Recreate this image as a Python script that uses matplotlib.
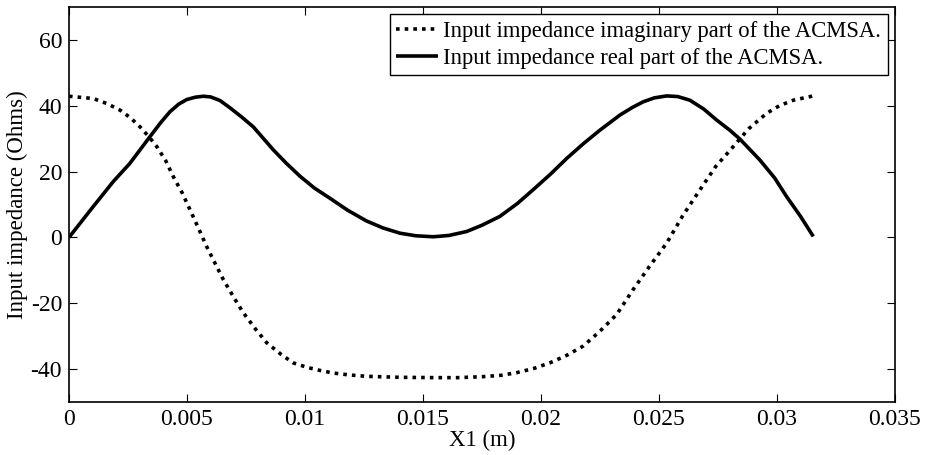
import numpy as np
import matplotlib.pyplot as plt

plt.rcParams['font.family'] = 'Liberation Serif'

# real part
x_re = [0.0, 0.00103, 0.00188, 0.00258, 0.00343, 0.00390, 0.00428, 0.00465, 0.00499,
        0.00535, 0.00569, 0.00600, 0.00640, 0.00682, 0.00730, 0.00781, 0.00866,
        0.00920, 0.00979, 0.01040, 0.01106, 0.01180, 0.01261, 0.01330, 0.01402,
        0.01470, 0.01544, 0.01610, 0.01685, 0.01750, 0.01826, 0.01900, 0.01967,
        0.02040, 0.02109, 0.02180, 0.0225, 0.02335, 0.02390, 0.02433, 0.02480,
        0.02533, 0.02580, 0.02631, 0.02690, 0.02744, 0.02800, 0.02843, 0.02928,
        0.02990, 0.03041, 0.03100, 0.03154]
re = [0.0, 9.4, 17.0, 22.5, 30.6, 35.0, 38.2, 40.5, 41.9,
      42.6, 42.9, 42.7, 41.6, 39.4, 36.7, 33.6, 26.6,
      22.6, 18.6, 15.0, 11.9, 8.3, 5.0, 2.9, 1.3,
      0.5, 0.2, 0.6, 1.8, 3.7, 6.4, 10.3, 14.5,
      19.2, 24.0, 28.5, 32.6, 37.2, 39.6, 41.2, 42.4,
      43.0, 42.8, 41.7, 39.0, 35.7, 32.6, 29.9, 23.5,
      18.1, 12.4, 6.4, 0.3]

# imaginary part
x_im = [0.0, 0.00103, 0.00160, 0.00216, 0.00260, 0.00301, 0.00340, 0.00372, 0.00410,
        0.00442, 0.00480, 0.00513, 0.00550, 0.00583, 0.00620, 0.00654, 0.00700,
        0.00739, 0.00790, 0.00838, 0.00900, 0.0095, 0.01010, 0.01063, 0.0112,
        0.01190, 0.01261, 0.0140, 0.0155, 0.0165, 0.01755, 0.01830, 0.01897,
        0.01970, 0.02038, 0.02110, 0.02179, 0.0225, 0.02321, 0.02391, 0.02460,
        0.02533, 0.02600, 0.02674, 0.02740, 0.02815, 0.02880, 0.02956, 0.03010,
        0.03069, 0.03154]
im = [42.9, 42.2, 40.7, 38.7, 36.4, 33.6, 30.5, 27.6, 23.3,
      18.5, 13.5, 8.4, 2.6, -2.7, -8.0, -12.8, -18.4,
      -22.9, -27.8, -32.0, -35.6, -38.1, -39.5, -40.4, -41.2,
      -41.8, -42.2, -42.5, -42.6, -42.6, -42.3, -41.9, -41.1,
      -39.8, -38.1, -35.8, -33.0, -28.5, -23.4, -15.8, -8.8,
      -1.7, 6.5, 14.5, 21.5, 27.6, 33.0, 37.7, 40.0,
      41.7, 43.0]

fig = plt.figure(figsize=(9.27, 4.55), dpi=100)
ax = fig.add_axes([0.0744, 0.1165, 0.891, 0.868])

ax.plot(x_im, im, color='k', lw=2.6, linestyle=(0, (1, 1.4)), dash_capstyle='butt',
        label='Input impedance imaginary part of the ACMSA.')
ax.plot(x_re, re, color='k', lw=2.6, solid_capstyle='butt',
        label='Input impedance real part of the ACMSA.')

ax.set_xlim(0, 0.035)
ax.set_ylim(-50, 70)
ax.set_xticks([0, 0.005, 0.01, 0.015, 0.02, 0.025, 0.03, 0.035])
ax.set_xticklabels(['0', '0.005', '0.01', '0.015', '0.02', '0.025', '0.03', '0.035'])
ax.set_yticks([-40, -20, 0, 20, 40, 60])
ax.set_yticklabels(['-40', '-20', '0', '20', '40', '60'])
ax.tick_params(direction='in', length=6, width=0.8, labelsize=17, top=True, right=True, pad=5)
for s in ax.spines.values():
    s.set_linewidth(1.2)

ax.set_xlabel('X1 (m)', fontsize=16.5, labelpad=0)
ax.set_ylabel('Input impedance (Ohms)', fontsize=16.5, labelpad=2)

leg = ax.legend(loc='upper right', fontsize=16.3, fancybox=False, framealpha=1,
                edgecolor='k', handlelength=1.85, handletextpad=0.22, borderpad=0.3,
                labelspacing=0.25, borderaxespad=0.31)
leg.get_frame().set_linewidth(1.0)

fig.savefig('out.png', dpi=100)
